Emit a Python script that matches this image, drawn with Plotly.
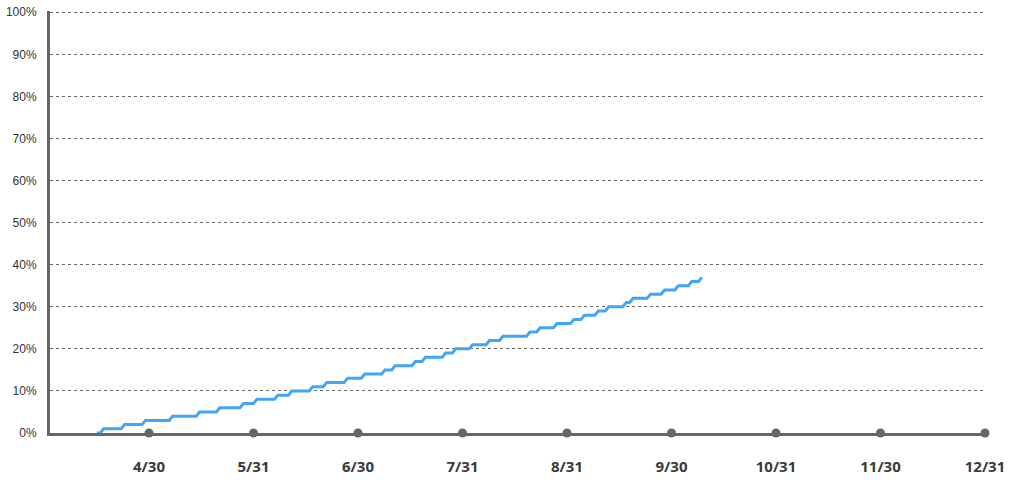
import calendar
import plotly.graph_objs as go

# step points of the cumulative line (first and last day of each 1% level)
dates = ['4/15', '4/16', '4/17', '4/22', '4/23', '4/28', '4/29', '5/6', '5/7', '5/14',
         '5/15', '5/20', '5/21', '5/27', '5/28', '5/31', '6/1', '6/6', '6/7', '6/10',
         '6/11', '6/16', '6/17', '6/20', '6/21', '6/26', '6/27', '7/1', '7/2', '7/7',
         '7/8', '7/10', '7/11', '7/16', '7/17', '7/19', '7/20', '7/25', '7/26', '7/28',
         '7/29', '8/2', '8/3', '8/7', '8/8', '8/11', '8/12', '8/19', '8/20', '8/22',
         '8/23', '8/27', '8/28', '9/1', '9/2', '9/4', '9/5', '9/8', '9/9', '9/11',
         '9/12', '9/16', '9/17', '9/18', '9/19', '9/23', '9/24', '9/27', '9/28', '10/1',
         '10/2', '10/5', '10/6', '10/8', '10/9']
values = [0, 0, 1, 1, 2, 2, 3, 3, 4, 4,
          5, 5, 6, 6, 7, 7, 8, 8, 9, 9,
          10, 10, 11, 11, 12, 12, 13, 13, 14, 14,
          15, 15, 16, 16, 17, 17, 18, 18, 19, 19,
          20, 20, 21, 21, 22, 22, 23, 23, 24, 24,
          25, 25, 26, 26, 27, 27, 28, 28, 29, 29,
          30, 30, 31, 31, 32, 32, 33, 33, 34, 34,
          35, 35, 36, 36, 37]

tick_labels = ['4/30', '5/31', '6/30', '7/31', '8/31', '9/30', '10/31', '11/30', '12/31']
y_ticks = [0, 10, 20, 30, 40, 50, 60, 70, 80, 90, 100]
y_labels = ['0%', '10%', '20%', '30%', '40%', '50%', '60%', '70%', '80%', '90%', '100%']


def month_pos(s):
    # month ends are evenly spaced on this axis
    m, d = [int(v) for v in s.split('/')]
    return (m - 1) + d / calendar.monthrange(2023, m)[1]


x = [month_pos(d) for d in dates]
tick_x = [month_pos(t) for t in tick_labels]

line = go.Scatter(
    x=x, y=values,
    mode='lines',
    line=dict(color='#42a5f5', width=3),
    hoverinfo='skip'
)

dots = go.Scatter(
    x=tick_x, y=[0] * len(tick_x),
    mode='markers',
    marker=dict(color='#666666', size=9),
    cliponaxis=False,
    hoverinfo='skip'
)

layout = go.Layout(
    width=1016, height=487,
    paper_bgcolor='white', plot_bgcolor='white',
    margin=dict(l=50, r=31, t=11, b=54),
    showlegend=False,
    xaxis=dict(
        range=[3.0526, 12],
        tickvals=tick_x, ticktext=tick_labels,
        showgrid=False, zeroline=False, automargin=False,
        showline=True, linecolor='#666666', linewidth=3,
        ticks='', ticklabelstandoff=18,
        tickfont=dict(family='Noto Sans', size=15, color='#3a3a3a', weight='bold')
    ),
    yaxis=dict(
        # a hair above 100 so the top gridline is not dropped at the edge
        range=[0, 100.3],
        tickvals=y_ticks, ticktext=y_labels,
        showgrid=True, gridcolor='#666666', gridwidth=1, griddash='3px,3px',
        zeroline=False, automargin=False,
        showline=True, linecolor='#666666', linewidth=3,
        ticks='', ticklabelstandoff=8,
        tickfont=dict(family='Liberation Sans', size=12, color='#333333')
    )
)

fig = go.Figure(data=[line, dots], layout=layout)
# drop the default 8px body margin so the figure sits at the page corner
fig.write_html("out.html", config={'displayModeBar': False},
               post_script="document.body.style.margin='0';")
